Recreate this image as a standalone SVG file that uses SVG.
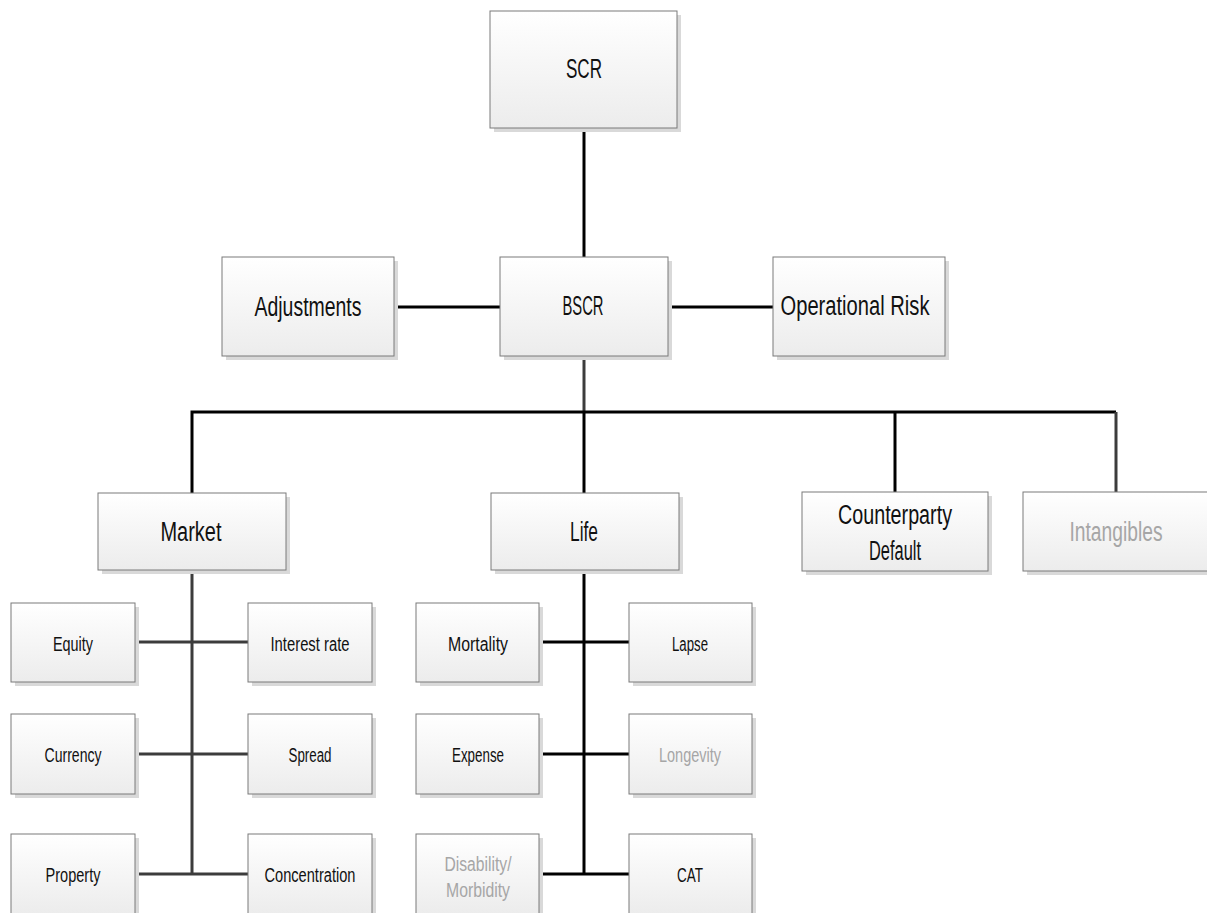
<svg xmlns="http://www.w3.org/2000/svg" width="1207" height="913" viewBox="0 0 1207 913">
<defs>
<linearGradient id="g" x1="0" y1="0" x2="0" y2="1">
<stop offset="0" stop-color="#ffffff"/>
<stop offset="1" stop-color="#ececec"/>
</linearGradient>
<style>
.sh{fill:#d9d9d9;}
.bx{fill:url(#g);stroke:#7a7a7a;stroke-width:1;}
text{font-family:"Liberation Sans",Arial,sans-serif;fill:#111;text-anchor:middle;}
.big{font-size:27px;}
.sm{font-size:20px;}
.dim{fill:#a6a6a6;}
.c{stroke:#000;stroke-width:3;fill:none;}
.cg{stroke:#3c3c3c;stroke-width:3;fill:none;}
</style>
</defs>
<rect width="1207" height="913" fill="#fff"/>
<g id="connectors">
<line class="c" x1="584" y1="128" x2="584" y2="257"/>
<line class="c" x1="394" y1="307" x2="500" y2="307"/>
<line class="c" x1="668" y1="307" x2="773" y2="307"/>
<line class="cg" x1="584" y1="356" x2="584" y2="412"/>
<path class="c" d="M192,493 V412 H1116"/>
<line class="c" x1="584" y1="412" x2="584" y2="493"/>
<line class="c" x1="895" y1="412" x2="895" y2="492"/>
<line class="cg" x1="1116" y1="412" x2="1116" y2="492"/>
<line class="cg" x1="192" y1="570" x2="192" y2="874"/>
<line class="cg" x1="135" y1="642" x2="248" y2="642"/>
<line class="cg" x1="135" y1="754" x2="248" y2="754"/>
<line class="cg" x1="135" y1="874" x2="248" y2="874"/>
<line class="c" x1="584" y1="570" x2="584" y2="874"/>
<line class="c" x1="539" y1="642" x2="629" y2="642"/>
<line class="c" x1="539" y1="754" x2="629" y2="754"/>
<line class="c" x1="539" y1="874" x2="629" y2="874"/>
</g>
<g id="scr"><rect class="sh" x="494" y="15" width="187" height="117"/><rect class="bx" x="490" y="11" width="187" height="117"/><text class="big" x="584" y="78" textLength="36" lengthAdjust="spacingAndGlyphs">SCR</text></g>
<g id="adjustments"><rect class="sh" x="226" y="261" width="172" height="99"/><rect class="bx" x="222" y="257" width="172" height="99"/><text class="big" x="308" y="316" textLength="107" lengthAdjust="spacingAndGlyphs">Adjustments</text></g>
<g id="bscr"><rect class="sh" x="504" y="261" width="168" height="99"/><rect class="bx" x="500" y="257" width="168" height="99"/><text class="big" x="583" y="315" textLength="41" lengthAdjust="spacingAndGlyphs">BSCR</text></g>
<g id="oprisk"><rect class="sh" x="777" y="261" width="172" height="99"/><rect class="bx" x="773" y="257" width="172" height="99"/><text class="big" x="855" y="315" textLength="149" lengthAdjust="spacingAndGlyphs">Operational Risk</text></g>
<g id="market"><rect class="sh" x="102" y="497" width="188" height="77"/><rect class="bx" x="98" y="493" width="188" height="77"/><text class="big" x="191" y="541" textLength="61" lengthAdjust="spacingAndGlyphs">Market</text></g>
<g id="life"><rect class="sh" x="495" y="497" width="188" height="77"/><rect class="bx" x="491" y="493" width="188" height="77"/><text class="big" x="584" y="541" textLength="28" lengthAdjust="spacingAndGlyphs">Life</text></g>
<g id="counterparty"><rect class="sh" x="806" y="496" width="186" height="79"/><rect class="bx" x="802" y="492" width="186" height="79"/><text class="big" x="895" y="524" textLength="114" lengthAdjust="spacingAndGlyphs">Counterparty</text><text class="big" x="895" y="560" textLength="52" lengthAdjust="spacingAndGlyphs">Default</text></g>
<g id="intangibles"><rect class="sh" x="1027" y="496" width="186" height="79"/><rect class="bx" x="1023" y="492" width="186" height="79"/><text class="big dim" x="1116" y="541" textLength="93" lengthAdjust="spacingAndGlyphs">Intangibles</text></g>
<g id="equity"><rect class="sh" x="15" y="607" width="124" height="79"/><rect class="bx" x="11" y="603" width="124" height="79"/><text class="sm" x="73" y="651" textLength="40" lengthAdjust="spacingAndGlyphs">Equity</text></g>
<g id="interest"><rect class="sh" x="252" y="607" width="124" height="79"/><rect class="bx" x="248" y="603" width="124" height="79"/><text class="sm" x="310" y="651" textLength="79" lengthAdjust="spacingAndGlyphs">Interest rate</text></g>
<g id="currency"><rect class="sh" x="15" y="718" width="124" height="80"/><rect class="bx" x="11" y="714" width="124" height="80"/><text class="sm" x="73" y="762" textLength="57" lengthAdjust="spacingAndGlyphs">Currency</text></g>
<g id="spread"><rect class="sh" x="252" y="718" width="124" height="80"/><rect class="bx" x="248" y="714" width="124" height="80"/><text class="sm" x="310" y="762" textLength="43" lengthAdjust="spacingAndGlyphs">Spread</text></g>
<g id="property"><rect class="sh" x="15" y="838" width="124" height="80"/><rect class="bx" x="11" y="834" width="124" height="80"/><text class="sm" x="73" y="882" textLength="55" lengthAdjust="spacingAndGlyphs">Property</text></g>
<g id="concentration"><rect class="sh" x="252" y="838" width="124" height="80"/><rect class="bx" x="248" y="834" width="124" height="80"/><text class="sm" x="310" y="882" textLength="91" lengthAdjust="spacingAndGlyphs">Concentration</text></g>
<g id="mortality"><rect class="sh" x="420" y="607" width="123" height="79"/><rect class="bx" x="416" y="603" width="123" height="79"/><text class="sm" x="478" y="651" textLength="60" lengthAdjust="spacingAndGlyphs">Mortality</text></g>
<g id="lapse"><rect class="sh" x="633" y="607" width="123" height="79"/><rect class="bx" x="629" y="603" width="123" height="79"/><text class="sm" x="690" y="651" textLength="36" lengthAdjust="spacingAndGlyphs">Lapse</text></g>
<g id="expense"><rect class="sh" x="420" y="718" width="123" height="80"/><rect class="bx" x="416" y="714" width="123" height="80"/><text class="sm" x="478" y="762" textLength="52" lengthAdjust="spacingAndGlyphs">Expense</text></g>
<g id="longevity"><rect class="sh" x="633" y="718" width="123" height="80"/><rect class="bx" x="629" y="714" width="123" height="80"/><text class="sm dim" x="690" y="762" textLength="62" lengthAdjust="spacingAndGlyphs">Longevity</text></g>
<g id="disability"><rect class="sh" x="420" y="838" width="123" height="80"/><rect class="bx" x="416" y="834" width="123" height="80"/><text class="sm dim" x="478" y="871" textLength="67" lengthAdjust="spacingAndGlyphs">Disability/</text><text class="sm dim" x="478" y="897" textLength="64" lengthAdjust="spacingAndGlyphs">Morbidity</text></g>
<g id="cat"><rect class="sh" x="633" y="838" width="123" height="80"/><rect class="bx" x="629" y="834" width="123" height="80"/><text class="sm" x="690" y="882" textLength="26" lengthAdjust="spacingAndGlyphs">CAT</text></g>
</svg>
